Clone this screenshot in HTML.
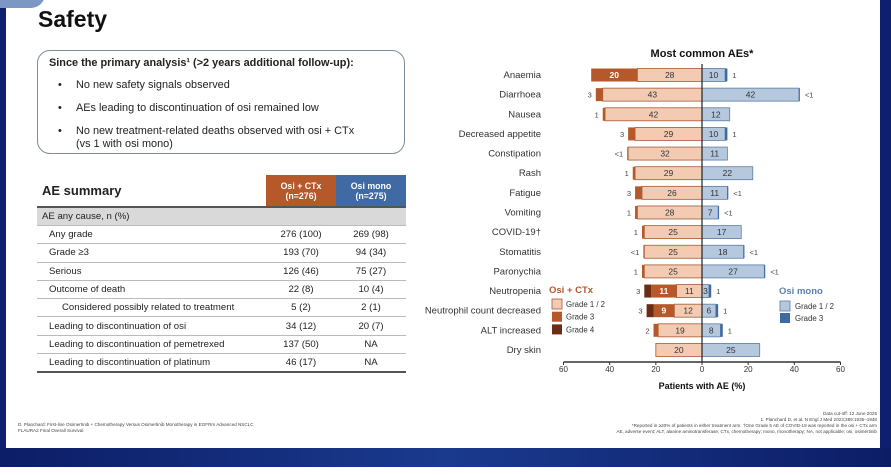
<!DOCTYPE html>
<html><head><meta charset="utf-8">
<style>
html,body{margin:0;padding:0;}
body{width:891px;height:475px;position:relative;overflow:hidden;background:#fff;font-family:"Liberation Sans",Arial,sans-serif;color:#222;}
.abs{position:absolute;}
#frame-left{left:0;top:0;width:6px;height:467px;background:#0d1f6e;}
#frame-right{left:880px;top:0;width:11px;height:467px;background:#0d1f6e;}
#frame-bottom{left:0;top:448px;width:891px;height:19px;background:linear-gradient(90deg,#0c1d66,#1a3a8e 50%,#0c1d66);}
#tab{left:0;top:-10px;width:45px;height:18px;background:#7d97c4;border-radius:0 0 14px 0;}
#title{left:38px;top:6px;font-size:23px;font-weight:bold;color:#111;}
#box{left:37px;top:50px;width:368px;height:104px;border:1.5px solid #7d8d9c;border-radius:13px;box-sizing:border-box;font-size:10.9px;}
#box .h{position:absolute;left:11px;top:6px;font-weight:bold;}
#box .b{position:absolute;left:20px;}
#box .t{position:absolute;left:38px;}
table{position:absolute;left:37px;top:175px;width:369px;border-collapse:collapse;font-size:9.6px;}
td{height:17.3px;padding:0;border-bottom:1px solid #bbb;}
td.n{text-align:center;width:70px;}
.note{font-size:4.6px;color:#444;line-height:6px;}
</style></head><body>
<div class="abs" id="frame-left"></div>
<div class="abs" id="frame-right"></div>
<div class="abs" id="frame-bottom"></div>
<div class="abs" id="tab"></div>
<div class="abs" id="title">Safety</div>
<div class="abs" id="box">
 <div class="h">Since the primary analysis¹ (&gt;2 years additional follow-up):</div>
 <div class="b" style="top:28px">•</div><div class="t" style="top:28px">No new safety signals observed</div>
 <div class="b" style="top:51px">•</div><div class="t" style="top:51px">AEs leading to discontinuation of osi remained low</div>
 <div class="b" style="top:74px">•</div><div class="t" style="top:74px;line-height:13px">No new treatment-related deaths observed with osi + CTx<br>(vs 1 with osi mono)</div>
</div>
<table>
<tr style="height:32px"><td style="border-bottom:2px solid #555;font-size:13px;font-weight:bold;padding-left:5px;vertical-align:middle">AE summary</td>
<td class="n" style="background:#b5582a;color:#fff;font-weight:bold;font-size:8.8px;border-bottom:2px solid #555">Osi + CTx<br>(n=276)</td>
<td class="n" style="background:#3f6aa3;color:#fff;font-weight:bold;font-size:8.8px;border-bottom:2px solid #555">Osi mono<br>(n=275)</td></tr>
<tr style="background:#d9d9d9"><td colspan="3" style="padding-left:5px;height:17px">AE any cause, n (%)</td></tr>
<tr><td style="padding-left:12px">Any grade</td><td class="n">276 (100)</td><td class="n">269 (98)</td></tr>
<tr><td style="padding-left:12px">Grade ≥3</td><td class="n">193 (70)</td><td class="n">94 (34)</td></tr>
<tr><td style="padding-left:12px">Serious</td><td class="n">126 (46)</td><td class="n">75 (27)</td></tr>
<tr><td style="padding-left:12px">Outcome of death</td><td class="n">22 (8)</td><td class="n">10 (4)</td></tr>
<tr><td style="padding-left:25px">Considered possibly related to treatment</td><td class="n">5 (2)</td><td class="n">2 (1)</td></tr>
<tr><td style="padding-left:12px">Leading to discontinuation of osi</td><td class="n">34 (12)</td><td class="n">20 (7)</td></tr>
<tr><td style="padding-left:12px">Leading to discontinuation of pemetrexed</td><td class="n">137 (50)</td><td class="n">NA</td></tr>
<tr><td style="padding-left:12px;border-bottom:2px solid #555">Leading to discontinuation of platinum</td><td class="n" style="border-bottom:2px solid #555">46 (17)</td><td class="n" style="border-bottom:2px solid #555">NA</td></tr>
</table>
<div class="abs note" style="left:18px;top:422px">D. Planchard: First-line Osimertinib + Chemotherapy Versus Osimertinib Monotherapy in EGFRm Advanced NSCLC<br>FLAURA2 Final Overall Survival</div>
<div class="abs note" style="right:14px;top:411px;text-align:right">Data cut-off: 12 June 2025<br>1. Planchard D, et al. N Engl J Med 2023;389:1935–1948<br>*Reported in ≥20% of patients in either treatment arm. †One Grade 5 AE of COVID-19 was reported in the osi + CTx arm<br>AE, adverse event; ALT, alanine aminotransferase; CTx, chemotherapy; mono, monotherapy; NA, not applicable; osi, osimertinib</div>

<svg class="abs" style="left:0;top:0" width="891" height="475" id="chart" font-family="Liberation Sans, Arial, sans-serif"></svg>
<script>
const categories=["Anaemia","Diarrhoea","Nausea","Decreased appetite","Constipation","Rash","Fatigue","Vomiting","COVID-19†","Stomatitis","Paronychia","Neutropenia","Neutrophil count decreased","ALT increased","Dry skin"];
const leftG12=[28,43,42,29,32,29,26,28,25,25,25,11,12,19,20];
const leftG3=[20,3,1,3,0.4,1,3,1,1,0.4,1,11,9,2,0];
const leftG4=[0,0,0,0,0,0,0,0,0,0,0,3,3,0,0];
const leftOutLabel=["","3","1","3","<1","1","3","1","1","<1","1","3","3","2",""];
const rightG12=[10,42,12,10,11,22,11,7,17,18,27,3,6,8,25];
const rightG3=[1,0.4,0,1,0,0,0.4,0.4,0,0.4,0.4,1,1,1,0];
const rightOutLabel=["1","<1","","1","","","<1","<1","","<1","<1","1","1","1",""];
const ticks=[-60,-40,-20,0,20,40,60];
const tickLabels=["60","40","20","0","20","40","60"];

const svg=document.getElementById('chart');
const NS='http://www.w3.org/2000/svg';
const x0=702,scale=138.5/60,y0=75,step=19.64,bh=13;
const xs=v=>x0+v*scale;
const ys=i=>y0+i*step;
function mk(tag,attrs,parent){const e=document.createElementNS(NS,tag);for(const k in attrs)e.setAttribute(k,attrs[k]);(parent||svg).appendChild(e);return e;}
function txt(x,y,s,size,anchor,fill,weight){const t=mk('text',{x:x,y:y,'font-size':size,'text-anchor':anchor,fill:fill,'font-weight':weight||'normal'});t.textContent=s;return t;}
const C={g12:'#f3cbb3',g12s:'#a65a33',g3:'#b5582a',g4:'#6a2c12',b12:'#b6c8de',b12s:'#5a7ca6',b3:'#3d6aa3'};

let t=txt(702,57,"Most common AEs*",11,'middle','#111','bold');



categories.forEach((c,i)=>{
  const y=ys(i);
  let lab=txt(541,y+3,c,9.5,'end','#333');
  
  
  let a=xs(-leftG12[i]);
  let r=mk('rect',{x:a,y:y-bh/2,width:xs(0)-a,height:bh,fill:C.g12,stroke:C.g12s,'stroke-width':0.8});
  
  
  let b=xs(-leftG12[i]-leftG3[i]);
  if(leftG3[i]>0){r=mk('rect',{x:b,y:y-bh/2,width:a-b,height:bh,fill:C.g3});
  
  }
  let d=xs(-leftG12[i]-leftG3[i]-leftG4[i]);
  if(leftG4[i]>0){r=mk('rect',{x:d,y:y-bh/2,width:b-d,height:bh,fill:C.g4});
  
  }
  txt((a+xs(0))/2,y+3,String(leftG12[i]),8.5,'middle','#333');
  if(leftG3[i]>=5)txt((a+b)/2,y+3,String(leftG3[i]),8.5,'middle','#fff','bold');
  if(leftOutLabel[i])txt(d-4,y+3,leftOutLabel[i],7.5,'end','#444');
  let e=xs(rightG12[i]);
  r=mk('rect',{x:xs(0),y:y-bh/2,width:e-xs(0),height:bh,fill:C.b12,stroke:C.b12s,'stroke-width':0.8});
  
  
  let f=xs(rightG12[i]+rightG3[i]);
  if(rightG3[i]>0){r=mk('rect',{x:e,y:y-bh/2,width:f-e,height:bh,fill:C.b3});
  
  }
  txt((xs(0)+e)/2,y+3,String(rightG12[i]),8.5,'middle','#333');
  if(rightOutLabel[i])txt(f+5,y+3,rightOutLabel[i],7.5,'start','#444');
});
mk('line',{x1:x0,y1:64,x2:x0,y2:362,stroke:'#222','stroke-width':1.2});
let ax=mk('line',{x1:xs(-60),y1:362,x2:xs(60),y2:362,stroke:'#333','stroke-width':1.5});


ticks.forEach((v,k)=>{
  mk('line',{x1:xs(v),y1:362,x2:xs(v),y2:365,stroke:'#333','stroke-width':1});
  let tl=txt(xs(v),372,tickLabels[k],8,'middle','#333');
  
  
});
t=txt(702,389,"Patients with AE (%)",9,'middle','#111','bold');


t=txt(549,293,"Osi + CTx",9.5,'start','#b5582a','bold');


[["Grade 1 / 2",C.g12],["Grade 3",C.g3],["Grade 4",C.g4]].forEach((l,k)=>{
  let s=mk('rect',{x:552,y:299+k*12.7,width:10,height:10,fill:l[1],stroke:k==0?C.g12s:'none','stroke-width':0.8});
  
  
  txt(566,307+k*12.7,l[0],7.8,'start','#333');
});
t=txt(779,294,"Osi mono",9.5,'start','#5b7fae','bold');


[["Grade 1 / 2",C.b12],["Grade 3",C.b3]].forEach((l,k)=>{
  let s=mk('rect',{x:780,y:301+k*12,width:10,height:10,fill:l[1],stroke:k==0?C.b12s:'none','stroke-width':0.8});
  
  
  txt(795,309+k*12,l[0],7.8,'start','#333');
});
</script>
</body></html>
